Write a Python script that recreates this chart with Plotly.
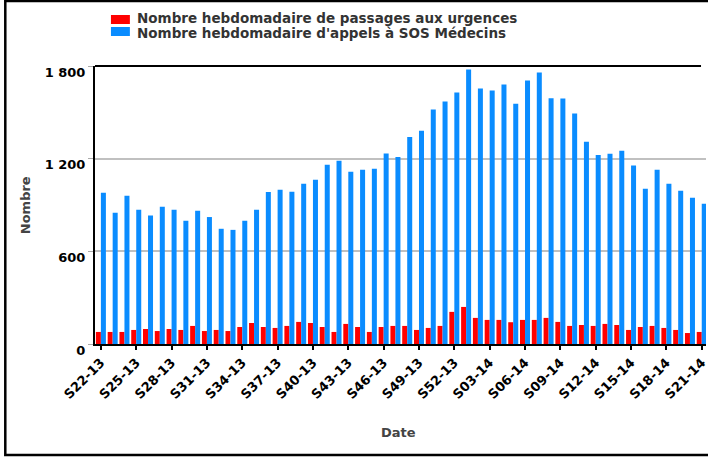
import plotly.graph_objects as go

weeks = [f"S{w:02d}-13" for w in range(22, 53)] + [f"S{w:02d}-14" for w in range(1, 22)]

urgences = [78, 78, 78, 91, 97, 84, 97, 91, 117, 84,
            91, 84, 110, 136, 110, 104, 117, 143, 136, 110,
            78, 130, 110, 78, 110, 117, 117, 91, 104, 117,
            208, 240, 169, 156, 156, 141, 156, 156, 169, 143,
            117, 123, 117, 130, 123, 91, 110, 117, 104, 91,
            71, 78]

sos_medecins = [979, 850, 960, 869, 832, 889, 869, 798, 863, 822,
                746, 739, 798, 869, 984, 999, 986, 1038, 1064, 1161,
                1187, 1116, 1129, 1135, 1234, 1211, 1340, 1381, 1518, 1570,
                1628, 1777, 1654, 1641, 1680, 1555, 1706, 1758, 1591, 1589,
                1492, 1310, 1224, 1232, 1252, 1155, 1005, 1129, 1038, 992,
                947, 908]

tick_labels = weeks[::3]
y_ticks = [0, 600, 1200, 1800]

name_urg = "Nombre hebdomadaire de passages aux urgences"
name_sos = "Nombre hebdomadaire d'appels à SOS Médecins"
RED = "#FF0000"
BLUE = "#0A8CFF"
FONT = "DejaVu Sans"

fig = go.Figure()
fig.add_trace(go.Bar(x=weeks, y=urgences, name=name_urg, marker=dict(color=RED, line=dict(width=0)), showlegend=False))
fig.add_trace(go.Bar(x=weeks, y=sos_medecins, name=name_sos, marker=dict(color=BLUE, line=dict(width=0)), showlegend=False))

W, H = 708, 457
L, R, T, B = 95, 0, 66, 113
pw, ph = W - L - R, H - T - B

def px(x):
    return (x - L) / pw

def py(y):
    return (H - B - y) / ph

shapes = [
    # outer frame
    dict(type="rect", xref="paper", yref="paper", x0=px(5), x1=px(715), y0=py(455), y1=py(1),
         line=dict(color="black", width=2.5), layer="below"),
    # top plot border
    dict(type="line", xref="paper", yref="paper", x0=0, x1=px(703), y0=1, y1=1,
         line=dict(color="black", width=2)),
    # legend swatches
    dict(type="rect", xref="paper", yref="paper", x0=px(111), x1=px(130), y0=py(24), y1=py(15),
         fillcolor=RED, line=dict(width=0)),
    dict(type="rect", xref="paper", yref="paper", x0=px(111), x1=px(130), y0=py(36), y1=py(27),
         fillcolor=BLUE, line=dict(width=0)),
]

annotations = [
    dict(text=name_urg, xref="paper", yref="paper", x=px(135), y=py(18.5), xanchor="left", yanchor="middle",
         showarrow=False, font=dict(family=FONT, size=13.5, color="#333333", weight="bold")),
    dict(text=name_sos, xref="paper", yref="paper", x=px(135), y=py(32.5), xanchor="left", yanchor="middle",
         showarrow=False, font=dict(family=FONT, size=13.5, color="#333333", weight="bold")),
    dict(text="Nombre", xref="paper", yref="paper", x=px(25), y=py(205), xanchor="center", yanchor="middle",
         textangle=-90, showarrow=False, font=dict(family=FONT, size=13, color="#444444", weight="bold")),
    dict(text="Date", xref="paper", yref="paper", x=px(399), y=py(432), xanchor="center", yanchor="middle",
         showarrow=False, font=dict(family=FONT, size=13, color="#444444", weight="bold")),
]

fig.update_layout(
    width=W, height=H,
    margin=dict(l=L, r=R, t=T, b=B, pad=0),
    paper_bgcolor="white", plot_bgcolor="white",
    barmode="group", bargap=0.15, bargroupgap=0.0,
    separators=", ",
    showlegend=False,
    shapes=shapes,
    annotations=annotations,
    xaxis=dict(
        type="category",
        range=[-0.5, -0.5 + pw / 11.82],
        tickmode="array", tickvals=tick_labels, ticktext=tick_labels,
        tickangle=-45,
        ticks="outside", ticklen=4, tickwidth=1.5, tickcolor="black",
        showline=True, linecolor="black", linewidth=2,
        showgrid=False, zeroline=False,
        tickfont=dict(family=FONT, size=13, color="black", weight="bold"),
    ),
    yaxis=dict(
        range=[0, 1800],
        tickmode="array", tickvals=y_ticks,
        tickformat=",",
        ticks="outside", ticklen=5, tickwidth=1, tickcolor="#aaaaaa",
        showline=True, linecolor="black", linewidth=2,
        showgrid=True, gridcolor="#C0C0C0", gridwidth=2,
        zeroline=False,
        ticklabelstandoff=0,
        ticklabelshift=6,
        tickfont=dict(family=FONT, size=13, color="black", weight="bold"),
    ),
)

fig.write_html("out.html", config={"displayModeBar": False},
               post_script="document.body.style.margin='0';document.body.style.overflow='hidden';")
